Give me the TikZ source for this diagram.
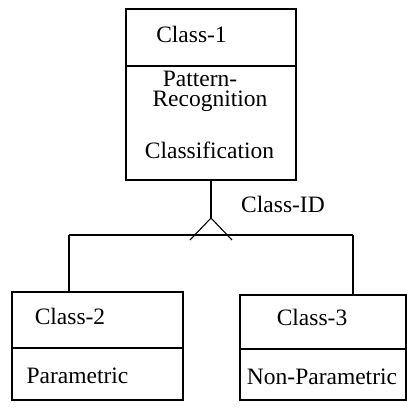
\documentclass[tikz,border=0pt]{standalone}
\usepackage{fontspec}
\setmainfont{Liberation Serif}
\begin{document}
\begin{tikzpicture}[x=1pt,y=-1pt,
  line width=1.1pt,
  box/.style={draw,rectangle,inner sep=0pt},
  txt/.style={anchor=base,inner sep=0pt,font=\fontsize{23.5}{20}\selectfont}]
\useasboundingbox (0,0) rectangle (407,408);
% class boxes
\node[box,minimum width=170pt,minimum height=171pt] (c1) at (211,94.5) {};
\node[box,minimum width=171pt,minimum height=108pt] (c2) at (97.5,346) {};
\node[box,minimum width=166pt,minimum height=105pt] (c3) at (323,347.5) {};
% compartment dividers
\draw (c1.west |- 0,66) -- (c1.east |- 0,66);
\draw (c2.west |- 0,348) -- (c2.east |- 0,348);
\draw (c3.west |- 0,349) -- (c3.east |- 0,349);
% texts
\node[txt] (t1) at (191.5,42) {Class-1};
\node[txt] (t1a) at (200,86) {Pattern-};
\node[txt] (t1b) at (210,106) {Recognition};
\node[txt] (t1c) at (209.5,158) {Classification};
\node[txt] (tid) at (283,212) {Class-ID};
\node[txt] (t2) at (70,324) {Class-2};
\node[txt] (t2a) at (77.5,383) {Parametric};
\node[txt] (t3) at (312,325) {Class-3};
\node[txt] (t3a) at (322,384) {Non-Parametric};
% generalization connector
\coordinate (apex) at (211,218);
\coordinate (bl) at (190,240);
\coordinate (br) at (232,240);
\coordinate (hl) at (69,235);
\coordinate (hr) at (353,235);
\draw (c1.south) -- (apex);
\draw (bl) -- (apex) -- (br);
\draw (hl) -- (hr);
\draw (hl) -- (hl |- c2.north);
\draw (hr) -- (hr |- c3.north);
\end{tikzpicture}
\end{document}
